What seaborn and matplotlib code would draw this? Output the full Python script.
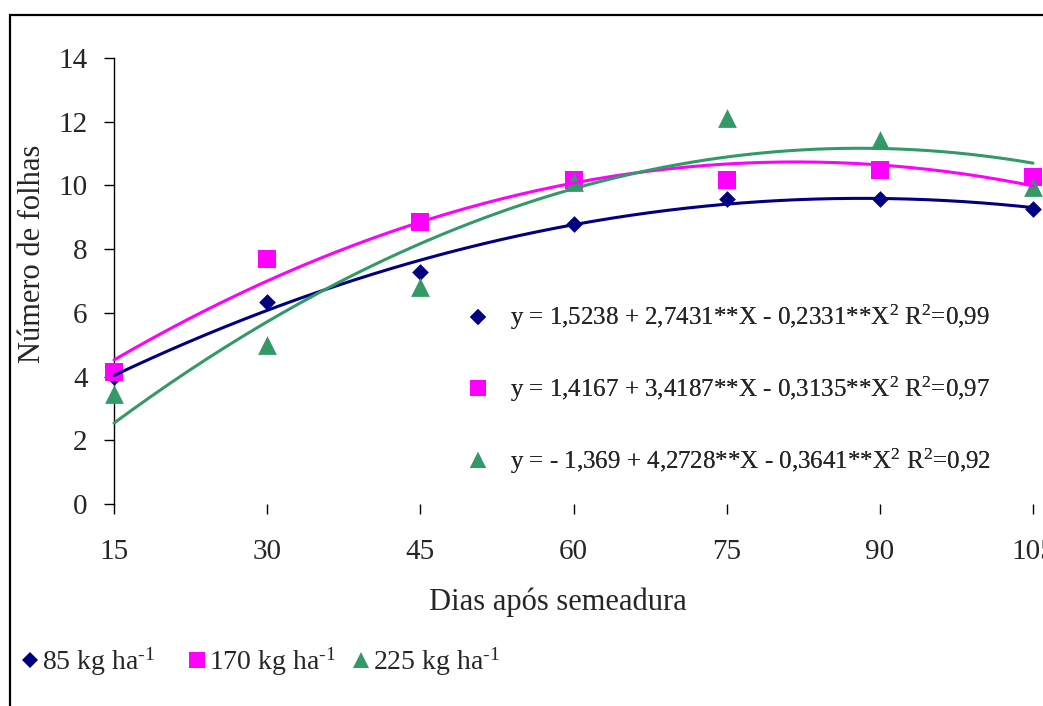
import numpy as np
import pandas as pd
import matplotlib.pyplot as plt
from matplotlib.lines import Line2D
from matplotlib.patches import Rectangle
import seaborn as sns

# Data
dias = [15, 30, 45, 60, 75, 90, 105]
folhas_85 = [4.0, 6.35, 7.28, 8.8, 9.57, 9.57, 9.25]
folhas_170 = [4.13, 7.68, 8.84, 10.17, 10.17, 10.49, 10.27]
folhas_225 = [3.45, 5.0, 6.8, 10.12, 12.12, 11.42, 9.96]

# quadratic trend coefficients (X = 1..7)
coef_85 = [1.5238, 2.7431, -0.2331]
coef_170 = [1.4167, 3.4187, -0.3135]
coef_225 = [-1.369, 4.2728, -0.3641]

series_labels = ["85 kg ha$^{\\text{-1}}$", "170 kg ha$^{\\text{-1}}$", "225 kg ha$^{\\text{-1}}$"]
equations = [
    "y = 1,5238 + 2,7431**X - 0,2331**X$^{2}$ R$^{2}$=0,99",
    "y = 1,4167 + 3,4187**X - 0,3135**X$^{2}$ R$^{2}$=0,97",
    "y = - 1,369 + 4,2728**X - 0,3641**X$^{2}$ R$^{2}$=0,92",
]
colors = ["#000080", "#FF00FF", "#339966"]
markers = ["D", "s", "^"]
msizes = [8.5, 13.5, 13.5]

sns.set_style("white")
plt.rcParams["font.family"] = ["Liberation Serif", "DejaVu Serif"]
plt.rcParams["mathtext.fontset"] = "custom"
plt.rcParams["mathtext.rm"] = "Liberation Serif"
plt.rcParams["mathtext.it"] = "Liberation Serif:italic"

fig = plt.figure(figsize=(10.43, 7.06), dpi=100)
ax = fig.add_axes([114 / 1043, 1 - 504 / 706, (1033 - 114) / 1043, (504 - 58) / 706])

all_y = [folhas_85, folhas_170, folhas_225]
all_c = [coef_85, coef_170, coef_225]

# points
for yv, col, mk, ms in zip(all_y, colors, markers, msizes):
    df = pd.DataFrame({"dias": dias, "folhas": yv})
    sns.scatterplot(data=df, x="dias", y="folhas", ax=ax, color=col, marker=mk,
                    s=ms ** 2, linewidth=0, zorder=3, clip_on=False)

# trend lines
X = np.linspace(1, 7, 200)
for c, col in zip(all_c, colors):
    tr = pd.DataFrame({"dias": 15 * X, "folhas": c[0] + c[1] * X + c[2] * X ** 2})
    sns.lineplot(data=tr, x="dias", y="folhas", ax=ax, color=col, linewidth=2.2,
                 zorder=4, clip_on=False)

ax.set_xlim(15, 105)
ax.set_ylim(0, 14)
ax.set_xticks(dias)
ax.set_yticks(range(0, 15, 2))
for s in ["top", "right", "bottom"]:
    ax.spines[s].set_visible(False)
ax.spines["left"].set_color("black")
ax.spines["left"].set_linewidth(1.0)
ax.tick_params(axis="y", direction="out", length=7, width=1, pad=12, labelsize=21,
               left=True, color="black")
ax.tick_params(axis="x", direction="out", length=7, width=1, pad=18, labelsize=21,
               bottom=True, color="black")

ax.set_xlabel("Dias após semeadura", fontsize=22)
ax.set_ylabel("Número de folhas", fontsize=22)
ax.xaxis.set_label_coords(0.483, -0.188)
ax.yaxis.set_label_coords(-0.073, 0.56)

# equations legend inside the plot
eq_handles = [Line2D([], [], linestyle="none", marker=mk, color=col, markersize=ms * 0.9,
                     markeredgewidth=0) for col, mk, ms in zip(colors, markers, msizes)]
leg1 = ax.legend(eq_handles, equations, loc="upper left", bbox_to_anchor=(0.372, 0.473),
                 frameon=False, fontsize=18, labelspacing=1.7, handletextpad=0.75,
                 handlelength=1.0, borderaxespad=0)
ax.add_artist(leg1)

# series legend at the bottom (Excel spaces the entries unevenly)
entry_x = [20, 187, 351]
for h_x, col, mk, ms, lab in zip(entry_x, colors, markers, msizes, series_labels):
    h = Line2D([], [], linestyle="none", marker=mk, color=col, markersize=ms * 0.9,
               markeredgewidth=0)
    fig.legend([h], [lab], loc="center left", bbox_to_anchor=(h_x / 1043, 1 - 662 / 706),
               frameon=False, fontsize=20, handletextpad=0.1, handlelength=0.7,
               borderaxespad=0, borderpad=0)

# outer frame
fig.add_artist(Rectangle((10 / 1043, -0.5), 2, 0.5 + 1 - 15 / 706, transform=fig.transFigure,
                         facecolor="none", edgecolor="black", linewidth=1.6))

fig.savefig("out.png", dpi=100)
